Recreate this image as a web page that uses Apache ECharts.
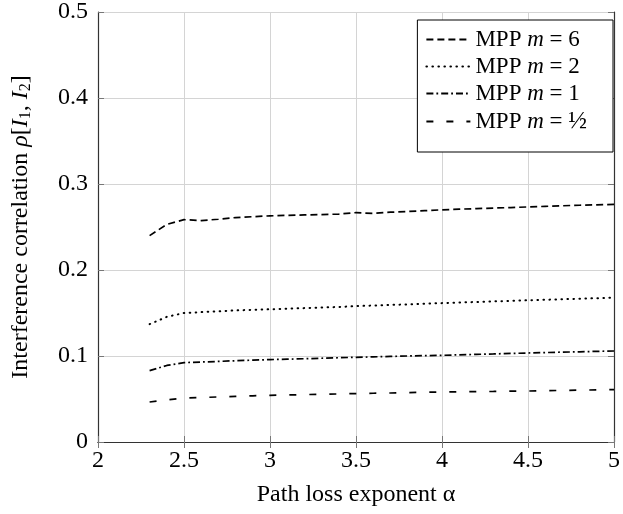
<!DOCTYPE html>
<html><head><meta charset="utf-8">
<script src="https://cdn.jsdelivr.net/npm/echarts@6/dist/echarts.min.js"></script>
<style>html,body{margin:0;padding:0;background:#fff}#c{width:623px;height:514px}</style>
</head><body><div id="c"></div>
<script>
const alphaVals = [2.3,2.4,2.5,2.6,2.7,2.8,2.9,3.0,3.1,3.2,3.3,3.4,3.5,3.6,3.7,3.8,3.9,4.0,4.1,4.2,4.3,4.4,4.5,4.6,4.7,4.8,4.9,5.0];
const m6 = [0.240,0.253,0.2585,0.2575,0.259,0.261,0.262,0.263,0.2635,0.264,0.2645,0.265,0.2667,0.2658,0.2672,0.268,0.269,0.270,0.2707,0.2714,0.272,0.2726,0.2733,0.274,0.2747,0.2753,0.2758,0.2762];
const m2 = [0.137,0.1455,0.150,0.151,0.152,0.153,0.1537,0.1543,0.155,0.1557,0.1564,0.157,0.158,0.1587,0.1594,0.160,0.1608,0.1615,0.1622,0.1628,0.1635,0.1641,0.1648,0.1654,0.166,0.1666,0.1672,0.1678];
const m1 = [0.083,0.089,0.0923,0.093,0.0937,0.0945,0.0952,0.0958,0.0963,0.0968,0.0974,0.098,0.0985,0.099,0.0995,0.100,0.1004,0.1008,0.1014,0.1019,0.1024,0.103,0.1035,0.104,0.1045,0.1049,0.1054,0.1058];
const mHalf = [0.0465,0.049,0.051,0.0517,0.0524,0.0531,0.0537,0.0543,0.0547,0.0551,0.0555,0.0559,0.0563,0.0567,0.057,0.0574,0.0578,0.0581,0.0584,0.0586,0.0588,0.0591,0.0593,0.0597,0.060,0.0603,0.0606,0.061];
const seriesNames = ['MPP m = 6','MPP m = 2','MPP m = 1','MPP m = ½'];
const legendLabels = ['{t|MPP }{i|m}{t| = 6}','{t|MPP }{i|m}{t| = 2}','{t|MPP }{i|m}{t| = 1}','{t|MPP }{i|m}{t| = }{f|½}'];

const F = '"Liberation Serif","DejaVu Serif",serif';
const pair = (ys) => alphaVals.map((x,i)=>[x, ys[i]]);
const dashes = [[7,4],[0.6,5.4],[7,3,1.8,3],[7,13]];
const caps = ['butt','round','butt','butt'];
const widths = [1.7,2.0,1.7,1.7];
const datas = [m6,m2,m1,mHalf];
const chart = echarts.init(document.getElementById('c'));
const axisCommon = {
  axisLine:{show:true, lineStyle:{color:'#333', width:1.2}},
  axisTick:{show:true, inside:true, length:6, lineStyle:{color:'#777', width:1}},
};
chart.setOption({
  animation:false,
  grid:{left:98, right:9, top:12, bottom:72},
  legend:{
    right:10, top:20, orient:'vertical',
    backgroundColor:'#fff', borderColor:'#000', borderWidth:1,
    padding:[8,26,18,8], itemGap:4, itemWidth:44, itemHeight:14,
    data:seriesNames,
    itemStyle:{opacity:0},
    formatter:(n)=>legendLabels[seriesNames.indexOf(n)],
    textStyle:{color:'#000', fontFamily:F, fontSize:23,
      rich:{t:{fontFamily:F, fontSize:23, color:'#000', lineHeight:23},
            i:{fontFamily:F, fontStyle:'italic', fontSize:23, color:'#000', lineHeight:23},
            f:{fontFamily:F, fontSize:25, color:'#000', lineHeight:37}}}
  },
  xAxis:[{
    type:'value', min:2, max:5, interval:0.5, position:'bottom',
    name:'Path loss exponent α', nameLocation:'middle', nameGap:41,
    nameTextStyle:{fontFamily:F, fontSize:24, color:'#000'},
    axisLabel:{fontFamily:F, fontSize:24, color:'#000', margin:7},
    splitLine:{show:true, lineStyle:{color:'#d4d4d4', width:1}},
    ...axisCommon
  },{
    type:'value', min:2, max:5, interval:0.5, position:'top',
    axisLabel:{show:false}, splitLine:{show:false}, ...axisCommon
  }],
  yAxis:[{
    type:'value', min:0, max:0.5, interval:0.1, position:'left',
    name:'{t|Interference correlation }{i|ρ}{t|[}{i|I}{s|1}{t|, }{i|I}{s|2}{t|]}',
    nameLocation:'middle', nameGap:64, nameRotate:90,
    nameTextStyle:{fontFamily:F, fontSize:24, color:'#000',
      rich:{t:{fontFamily:F, fontSize:24, color:'#000'}, i:{fontFamily:F, fontStyle:'italic', fontSize:24, color:'#000'}, s:{fontFamily:F, fontSize:16, color:'#000', padding:[10,0,0,0]}}},
    axisLabel:{fontFamily:F, fontSize:24, color:'#000', margin:10},
    splitLine:{show:true, lineStyle:{color:'#d4d4d4', width:1}},
    ...axisCommon
  },{
    type:'value', min:0, max:0.5, interval:0.1, position:'right',
    axisLabel:{show:false}, splitLine:{show:false}, ...axisCommon
  }],
  series: datas.map((d,k)=>({
    name:seriesNames[k], type:'line', data:pair(d), showSymbol:false, symbol:'none',
    smooth:false, color:'#000',
    lineStyle:{color:'#000', width:widths[k], type:dashes[k], cap:caps[k]}
  }))
});
</script></body></html>
